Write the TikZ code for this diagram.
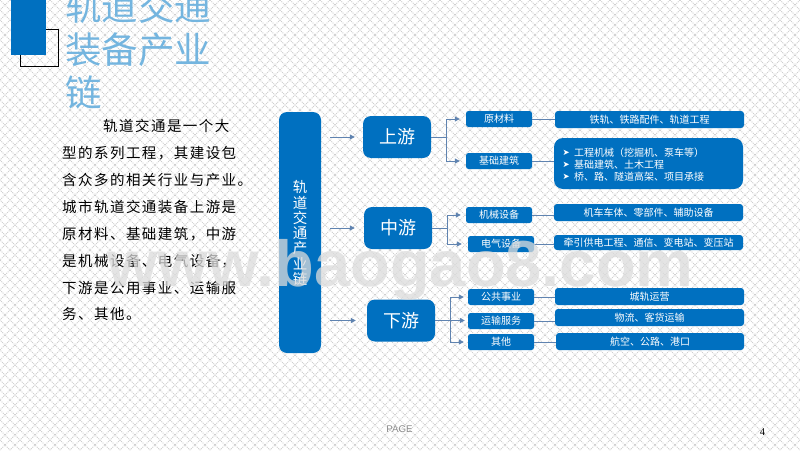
\documentclass[tikz,border=0pt]{standalone}
\usepackage{fontspec}
\usetikzlibrary{arrows.meta}
\setmainfont{Noto Sans CJK SC}
\newfontfamily\bodyfont[LetterSpace=10]{Noto Sans CJK SC}
\newfontfamily\titlefont{Noto Sans CJK SC}
\newfontfamily\latinfont{Liberation Sans}
\newfontfamily\wmfont{Liberation Sans}
\newfontfamily\numfont{Liberation Serif}
\newfontfamily\symfont{DejaVu Sans}
\definecolor{mainblue}{HTML}{0070C0}
\definecolor{titleblue}{HTML}{74B5DF}
\definecolor{linkblue}{HTML}{5F83B0}
\definecolor{hatch}{HTML}{CFCFCF}
\definecolor{wmgray}{HTML}{DCDCDC}
\tikzset{
  x=1pt,y=-1pt,
  tier/.style={fill=mainblue,rounded corners=8pt,minimum width=68pt,minimum height=42pt,inner sep=0pt,text=white,font=\fontsize{18}{18}\selectfont},
  small/.style={fill=mainblue,rounded corners=2.5pt,minimum width=66pt,minimum height=16pt,inner sep=0pt,text=white,font=\fontsize{10}{10}\selectfont},
  wide/.style={fill=mainblue,rounded corners=3pt,minimum width=189pt,minimum height=17pt,inner sep=0pt,text=white,font=\fontsize{10}{10}\selectfont},
  conn/.style={draw=linkblue,line width=1pt},
  arr/.style={conn,-{Triangle[length=5pt,width=5pt]}},
  bodyline/.style={anchor=west,inner sep=0pt,text=black,font=\bodyfont\fontsize{14.5}{14.5}\selectfont},
  titleline/.style={anchor=west,inner sep=0pt,text=titleblue,font=\titlefont\fontsize{36.5}{36.5}\selectfont},
  listline/.style={anchor=west,inner sep=0pt,text=white,font=\fontsize{10}{10}\selectfont},
  listmark/.style={anchor=west,inner sep=0pt,text=white,font=\symfont\fontsize{8.5}{8.5}\selectfont},
}
\begin{document}
\begin{tikzpicture}
\useasboundingbox (0,0) rectangle (800,450);
\fill[white] (0,0) rectangle (800,450);
\begin{scope}
\clip (0,0) rectangle (800,450);
\foreach \k in {-450,-440,...,800}{
  \draw[hatch,line width=0.8pt,dash pattern=on 1pt off 1pt] (\k,0) -- ++(450,450);
}
\foreach \k in {0,10,...,1250}{
  \draw[hatch,line width=0.8pt,dash pattern=on 1pt off 1pt] (\k,0) -- ++(-450,450);
}
% title
\node[titleline] (t1) at (65,7) {轨道交通};
\node[titleline] (t2) at (65,50) {装备产业};
\node[titleline] (t3) at (65,92) {链};
\end{scope}
% corner decoration
\draw[black,line width=0.8pt] (20.5,29.5) rectangle (58.5,66);
\fill[mainblue] (11,0) rectangle (46,55);
% body text
\node[bodyline] (b1) at (103,126) {轨道交通是一个大};
\node[bodyline] (b2) at (62,153) {型的系列工程，其建设包};
\node[bodyline] (b3) at (62,180) {含众多的相关行业与产业。};
\node[bodyline] (b4) at (62,207) {城市轨道交通装备上游是};
\node[bodyline] (b5) at (62,234) {原材料、基础建筑，中游};
\node[bodyline] (b6) at (62,261) {是机械设备、电气设备，};
\node[bodyline] (b7) at (62,288) {下游是公用事业、运输服};
\node[bodyline] (b8) at (62,314) {务、其他。};
% main column
\node[fill=mainblue,rounded corners=8pt,minimum width=42pt,minimum height=241pt,inner sep=0pt] (main) at (300,232.5) {};
\node[inner sep=0pt,text=white,align=center,font=\fontsize{14.5}{15.3}\selectfont] (maintext) at (300,233) {轨\\道\\交\\通\\产\\业\\链};
% tiers
\node[tier] (up) at (397,137) {上游};
\node[tier] (mid) at (398,228) {中游};
\node[tier] (down) at (401,320.5) {下游};
% small boxes
\node[small] (raw) at (499,119) {原材料};
\node[small] (base) at (499,161) {基础建筑};
\node[small] (mech) at (499,215) {机械设备};
\node[small] (elec) at (501,244) {电气设备};
\node[small] (pub) at (501,297) {公共事业};
\node[small] (trans) at (501,321) {运输服务};
\node[small] (other) at (501,342) {其他};
% right boxes
\node[wide] (rail) at (649.5,119.5) {铁轨、铁路配件、轨道工程};
\node[wide,minimum height=51pt,rounded corners=9pt] (big) at (648.5,163.5) {};
\node[listmark] (m1) at (562.5,152.5) {➤};
\node[listmark] (m2) at (562.5,164.5) {➤};
\node[listmark] (m3) at (562.5,176.5) {➤};
\node[listline] (l1) at (574,152.5) {工程机械（挖掘机、泵车等）};
\node[listline] (l2) at (574,164.5) {基础建筑、土木工程};
\node[listline] (l3) at (574,176.5) {桥、路、隧道高架、项目承接};
\node[wide] (car) at (648.5,212.5) {机车车体、零部件、辅助设备};
\node[wide,minimum height=15pt] (power) at (648.5,242.5) {牵引供电工程、通信、变电站、变压站};
\node[wide] (metro) at (649.5,296.5) {城轨运营};
\node[wide] (freight) at (649.5,317.5) {物流、客货运输};
\node[wide,minimum width=188pt] (air) at (650,341.5) {航空、公路、港口};
% connectors main to tiers
\draw[arr,shorten <=9pt,shorten >=8pt] (main.east |- up.west) -- (up.west);
\draw[arr,shorten <=9pt,shorten >=9pt] (main.east |- mid.west) -- (mid.west);
\draw[arr,shorten <=9pt,shorten >=11pt] (main.east |- down.west) -- (down.west);
% branches
\coordinate (upj) at (446,137);
\coordinate (midj) at (447,228);
\coordinate (downj) at (450,320.5);
\draw[conn] (up.east) -- (upj);
\draw[conn] (mid.east) -- (midj);
\draw[conn] (down.east) -- (downj);
\draw[arr,shorten >=6pt] (upj) |- (raw.west);
\draw[arr,shorten >=6pt] (upj) |- (base.west);
\draw[arr,shorten >=5pt] (midj) |- (mech.west);
\draw[arr,shorten >=6pt] (midj) |- (elec.west);
\draw[arr,shorten >=4pt] (downj) |- (pub.west);
\draw[arr,shorten >=3pt] (downj) -- (downj -| trans.west);
\draw[arr,shorten >=4pt] (downj) |- (other.west);
% leaves
\draw[conn] (raw.east) -- (rail.west |- raw.east);
\draw[conn] (base.east) -- (big.west |- base.east);
\draw[conn] (mech.east) -- (car.west |- mech.east);
\draw[conn] (elec.east) -- (power.west |- elec.east);
\draw[conn] (pub.east) -- (metro.west |- pub.east);
\draw[conn] (trans.east) -- (freight.west |- trans.east);
\draw[conn] (other.east) -- (air.west |- other.east);
% footer
\node[inner sep=0pt,text=gray!90,font=\latinfont\fontsize{9.7}{9.7}\selectfont] (page) at (399.5,429) {PAGE};
\node[inner sep=0pt,text=black,font=\numfont\fontsize{10.5}{10.5}\selectfont] (num) at (762.5,432) {4};
% watermark
\node[anchor=base west,inner sep=0pt,text=wmgray,text opacity=0.75,font=\wmfont\bfseries\fontsize{65}{65}\selectfont] (wm) at (107,286) {www.baogao8.com};
\end{tikzpicture}
\end{document}
